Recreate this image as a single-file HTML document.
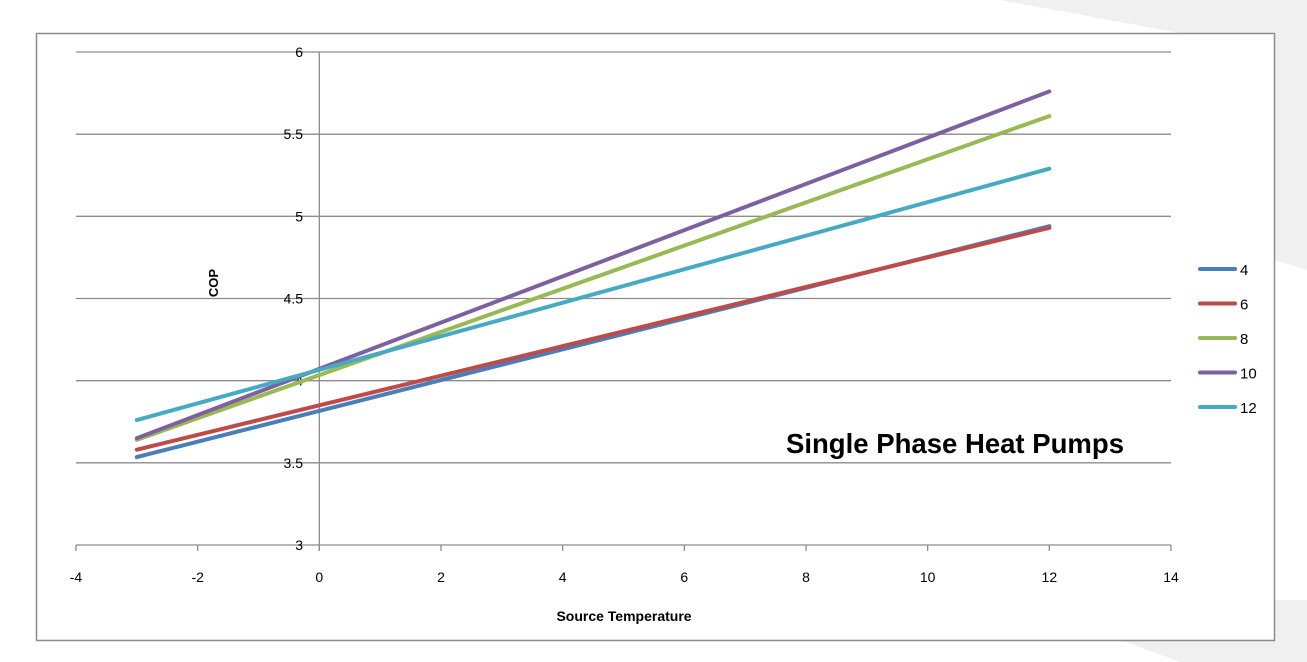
<!DOCTYPE html>
<html><head><meta charset="utf-8"><style>
body{margin:0;background:#fff;}
svg{display:block;font-family:"Liberation Sans",sans-serif;}
</style></head><body>
<svg id="chart" width="1307" height="662">
<polygon points="1000,0 1307,0 1307,270 1275,260 1275,33 1180,33" fill="#f0f0f0"/>
<polygon points="1120,640 1180,662 1307,662 1307,600 1275,600 1275,640" fill="#f0f0f0"/>
<rect x="36.5" y="33.5" width="1238" height="607" fill="#fff" stroke="#8c8c8c" stroke-width="1.5"/>
<g id="grid"></g><g id="lines"></g><g id="legend"></g>
<text x="218" y="283" font-size="13" font-weight="bold" transform="rotate(-90 218 283)" text-anchor="middle">COP</text>
<text x="624" y="621" font-size="14" font-weight="bold" text-anchor="middle">Source Temperature</text>
<text x="955" y="453" font-size="28" font-weight="bold" text-anchor="middle" textLength="338" lengthAdjust="spacingAndGlyphs">Single Phase Heat Pumps</text>
</svg>
<script>
const xTicks=[-4,-2,0,2,4,6,8,10,12,14];
const yTicks=[3,3.5,4,4.5,5,5.5,6];
const seriesNames=['4','6','8','10','12'];
const seriesColors=['#4a7ebb','#be4b48','#98b954','#7d60a0','#46aac5'];
const xValues=[-3,12];
const s4=[3.535,4.94];
const s6=[3.58,4.93];
const s8=[3.64,5.61];
const s10=[3.65,5.76];
const s12=[3.76,5.29];
const allSeries=[s4,s6,s8,s10,s12];
const NS='http://www.w3.org/2000/svg';
const X=v=>76+(v+4)*(1171-76)/18;
const Y=v=>545-(v-3)*(545-52)/3;
function mk(t,a,p){const e=document.createElementNS(NS,t);for(const k in a)e.setAttribute(k,a[k]);p.appendChild(e);return e;}
const g=document.getElementById('grid');
yTicks.forEach(v=>{
 const l=mk('line',{x1:76,x2:1171,y1:Y(v),y2:Y(v),stroke:'#8c8c8c','stroke-width':1.3},g);
 
 
 const t=mk('text',{x:303,y:Y(v)+5,'font-size':14,'text-anchor':'end'},g);t.textContent=v;
 
 
});
const va=mk('line',{x1:X(0),x2:X(0),y1:Y(6),y2:Y(3)+6,stroke:'#8c8c8c','stroke-width':1.3},g);


xTicks.forEach(v=>{
 const l=mk('line',{x1:X(v),x2:X(v),y1:Y(3),y2:Y(3)+6,stroke:'#8c8c8c','stroke-width':1.3},g);
 
 
 const t=mk('text',{x:X(v),y:582,'font-size':14,'text-anchor':'middle'},g);t.textContent=v;
 
 
});
const lg=document.getElementById('lines');
allSeries.forEach((s,i)=>{
 const pts=s.map((v,j)=>X(xValues[j])+','+Y(v)).join(' ');
 const p=mk('polyline',{points:pts,fill:'none',stroke:seriesColors[i],'stroke-width':4,'stroke-linecap':'round'},lg);
 
 
});
const leg=document.getElementById('legend');
seriesNames.forEach((n,i)=>{
 const y=269+i*34.5;
 const l=mk('line',{x1:1200,x2:1235,y1:y,y2:y,stroke:seriesColors[i],'stroke-width':4,'stroke-linecap':'round'},leg);
 
 
 const t=mk('text',{x:1240,y:y+6,'font-size':15},leg);t.textContent=n;
 
 
});
</script>
</body></html>
